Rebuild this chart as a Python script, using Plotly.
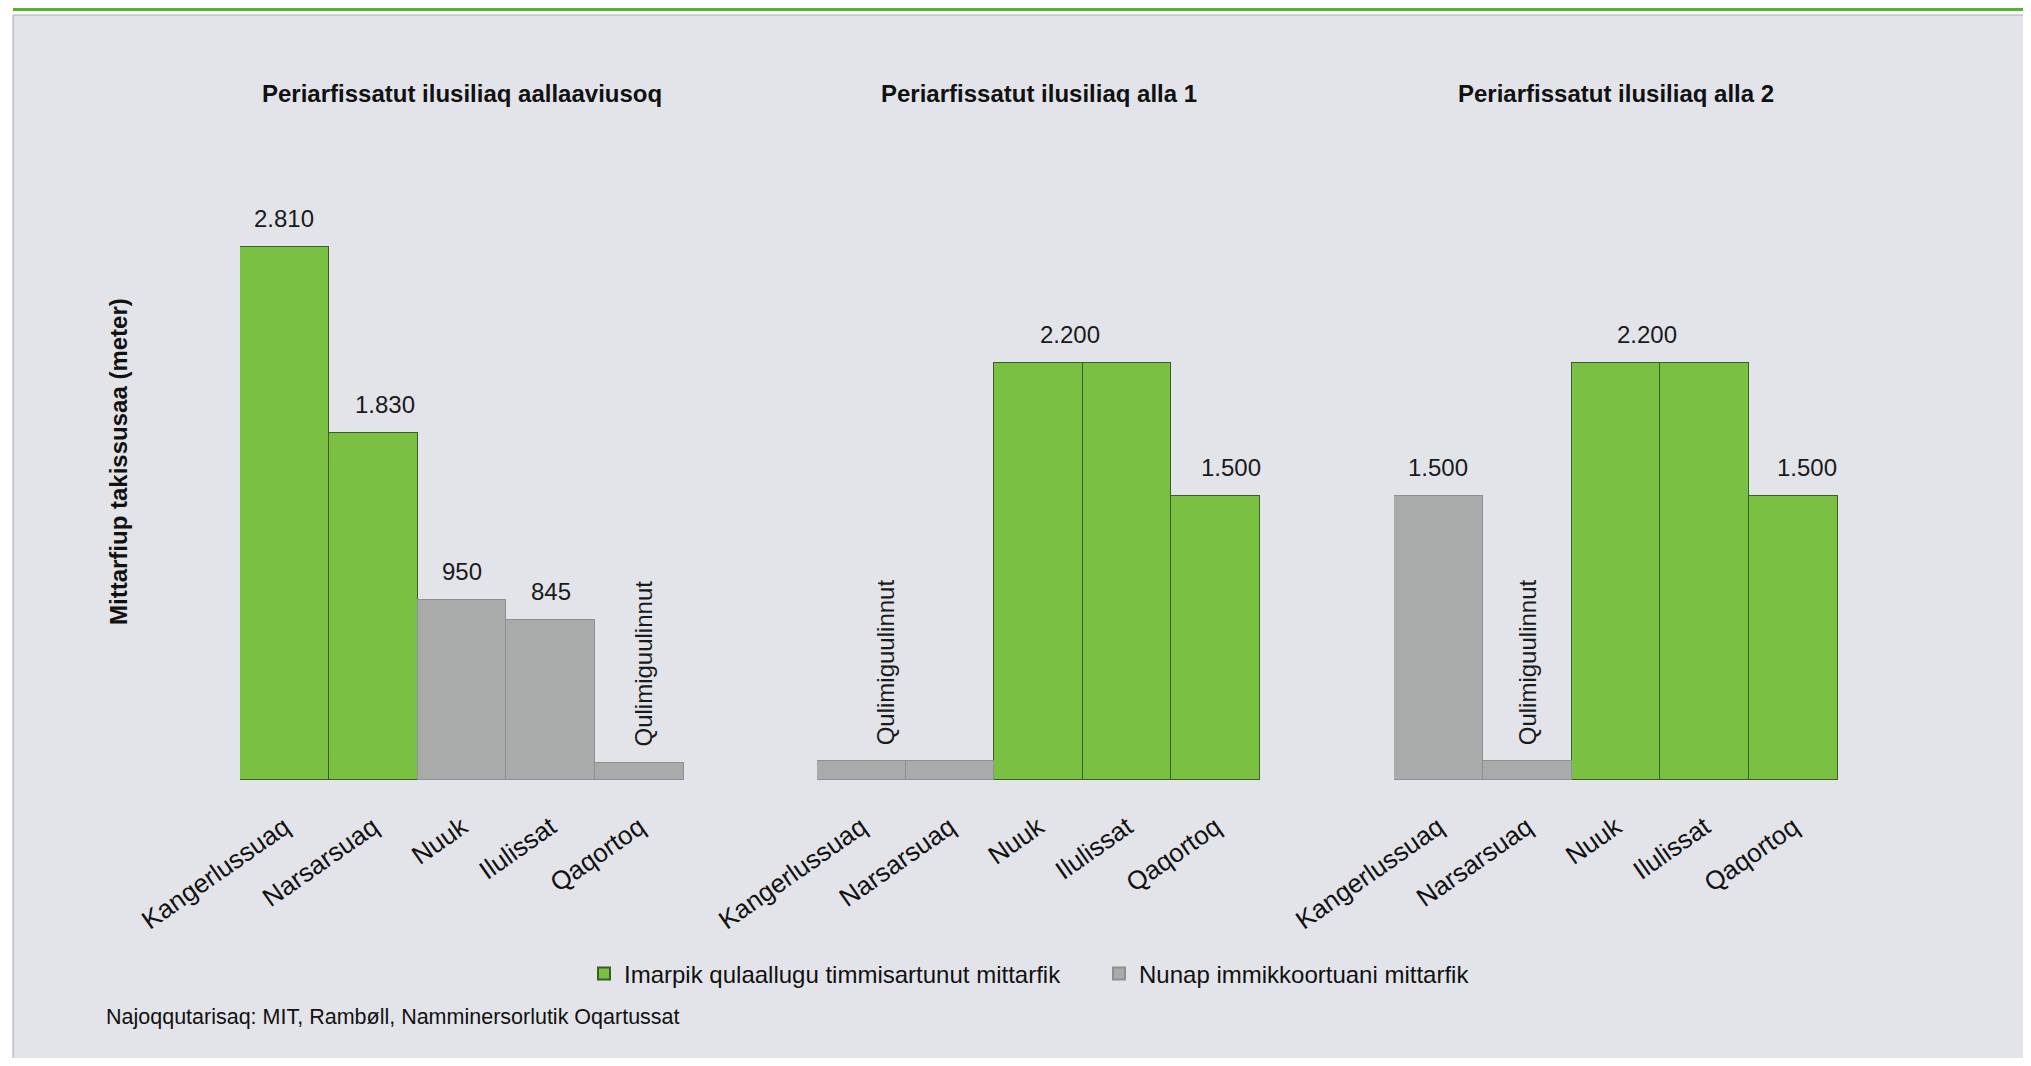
import plotly.graph_objects as go

# ---------------- data ----------------
cities = ["Kangerlussuaq", "Narsarsuaq", "Nuuk", "Ilulissat", "Qaqortoq"]
panel_titles = [
    "Periarfissatut ilusiliaq aallaaviusoq",
    "Periarfissatut ilusiliaq alla 1",
    "Periarfissatut ilusiliaq alla 2",
]
series_names = {
    "I": "Imarpik qulaallugu timmisartunut mittarfik",
    "R": "Nunap immikkoortuani mittarfik",
}
lengths_p1 = [2810, 1830, 950, 845, 90]
lengths_p2 = [100, 100, 2200, 2200, 1500]
lengths_p3 = [1500, 100, 2200, 2200, 1500]
types_p1 = ["I", "I", "R", "R", "R"]
types_p2 = ["R", "R", "I", "I", "I"]
types_p3 = ["R", "R", "I", "I", "I"]
value_labels_p1 = ["2.810", "1.830", "950", "845", ""]
value_labels_p2 = ["", "", "2.200", "", "1.500"]
value_labels_p3 = ["1.500", "", "2.200", "", "1.500"]
note_text = "Qulimiguulinnut"
note_city = ["Qaqortoq", "Kangerlussuaq", "Narsarsuaq"]
y_title = "Mittarfiup takissusaa (meter)"
source_text = "Najoqqutarisaq: MIT, Rambøll, Namminersorlutik Oqartussat"

# ---------------- styles ----------------
W, H = 2031, 1066
OFF = 8  # page body margin
FW, FH = W - OFF, H - 2 * OFF  # figure size that fits the window without scrollbars
FONT = "Liberation Sans, Arial, sans-serif"
colors = {"I": "#7ac143", "R": "#a9abab"}
outlines = {"I": "#3b5e22", "R": "#8d8f90"}
label_xshift = [[0, 12, 0, 0, 0], [0, 0, 31, 0, 15], [0, 0, 31, 0, 13]]
note_xshift = [4, 24, 0]
domains_px = [(240, 684), (817, 1260), (1394, 1838)]
baseline_px = 780
y_top_px = 211
y_max = 3000


def px(x):
    return (x - OFF) / FW


def py(y):
    return 1 - (y - OFF) / FH


panels = [
    (lengths_p1, types_p1, value_labels_p1),
    (lengths_p2, types_p2, value_labels_p2),
    (lengths_p3, types_p3, value_labels_p3),
]

fig = go.Figure()
annotations = []

for i, (lengths, types, vlabels) in enumerate(panels):
    ax = "" if i == 0 else str(i + 1)
    for t in ["I", "R"]:
        xs = [c for c, tt in zip(cities, types) if tt == t]
        ys = [v for v, tt in zip(lengths, types) if tt == t]
        fig.add_trace(go.Bar(
            x=xs, y=ys, name=series_names[t], legendgroup=t,
            showlegend=(i == 0),
            marker=dict(color=colors[t], line=dict(color=outlines[t], width=1)),
            xaxis="x" + ax, yaxis="y" + ax, hoverinfo="x+y",
        ))
    # value labels
    for j, (c, v, lab) in enumerate(zip(cities, lengths, vlabels)):
        if lab:
            annotations.append(dict(
                x=c, y=v, xref="x" + ax, yref="y" + ax, text=lab,
                showarrow=False, yanchor="bottom", yshift=13,
                xshift=label_xshift[i][j],
                font=dict(family=FONT, size=24, color="#1a1a1a"),
            ))
    # note
    nc = note_city[i]
    annotations.append(dict(
        x=nc, y=lengths[cities.index(nc)], xref="x" + ax, yref="y" + ax,
        text=note_text, textangle=-90, showarrow=False,
        yanchor="bottom", yshift=14, xshift=note_xshift[i],
        font=dict(family=FONT, size=24, color="#1a1a1a"),
    ))
    # panel title
    d0, d1 = domains_px[i]
    annotations.append(dict(
        x=px((d0 + d1) / 2), y=py(93), xref="paper", yref="paper",
        text="<b>" + panel_titles[i] + "</b>", showarrow=False,
        xanchor="center", yanchor="middle",
        font=dict(family=FONT, size=24, color="#111111"),
    ))

# y-axis title
annotations.append(dict(
    x=px(119), y=py(462), xref="paper", yref="paper",
    text="<b>" + y_title + "</b>", textangle=-90, showarrow=False,
    xanchor="center", yanchor="middle",
    font=dict(family=FONT, size=24, color="#111111"),
))
# source
annotations.append(dict(
    x=px(104), y=py(1017), xref="paper", yref="paper",
    text=source_text, showarrow=False, xanchor="left", yanchor="middle",
    font=dict(family=FONT, size=21.5, color="#111111"),
))

layout = dict(
    width=FW, height=FH,
    margin=dict(l=0, r=0, t=0, b=0, autoexpand=False),
    paper_bgcolor="#ffffff", plot_bgcolor="rgba(0,0,0,0)",
    barmode="stack", bargap=0,
    font=dict(family=FONT, color="#111111"),
    legend=dict(
        orientation="h", x=px(584), y=py(974), xanchor="left", yanchor="middle",
        font=dict(family=FONT, size=24, color="#111111"),
        bgcolor="rgba(0,0,0,0)", itemsizing="constant",
        entrywidth=470, entrywidthmode="pixels",
    ),
    annotations=annotations,
    shapes=[
        dict(type="rect", xref="paper", yref="paper",
             x0=px(13), x1=1.02, y0=-0.02, y1=py(15),
             fillcolor="#e3e4e9", line=dict(color="#a9aab0", width=1), layer="below"),
        dict(type="line", xref="paper", yref="paper",
             x0=px(13), x1=1.01, y0=py(9.5), y1=py(9.5),
             line=dict(color="#52b52a", width=3)),
    ],
)

ydom = [py(baseline_px), py(y_top_px)]
for i in range(3):
    ax = "" if i == 0 else str(i + 1)
    d0, d1 = domains_px[i]
    layout["xaxis" + ax] = dict(
        domain=[px(d0), px(d1)], anchor="y" + ax,
        categoryorder="array", categoryarray=cities,
        range=[-0.5, 4.5], tickangle=-35, automargin=False,
        tickfont=dict(family=FONT, size=26, color="#111111"),
        showline=False, showgrid=False, zeroline=False, ticks="",
        ticklabelstandoff=26,
    )
    layout["yaxis" + ax] = dict(
        domain=ydom, anchor="x" + ax, range=[0, y_max], automargin=False,
        showticklabels=False, showgrid=False, zeroline=False, showline=False,
    )

fig.update_layout(**layout)
fig.write_html("out.html")
